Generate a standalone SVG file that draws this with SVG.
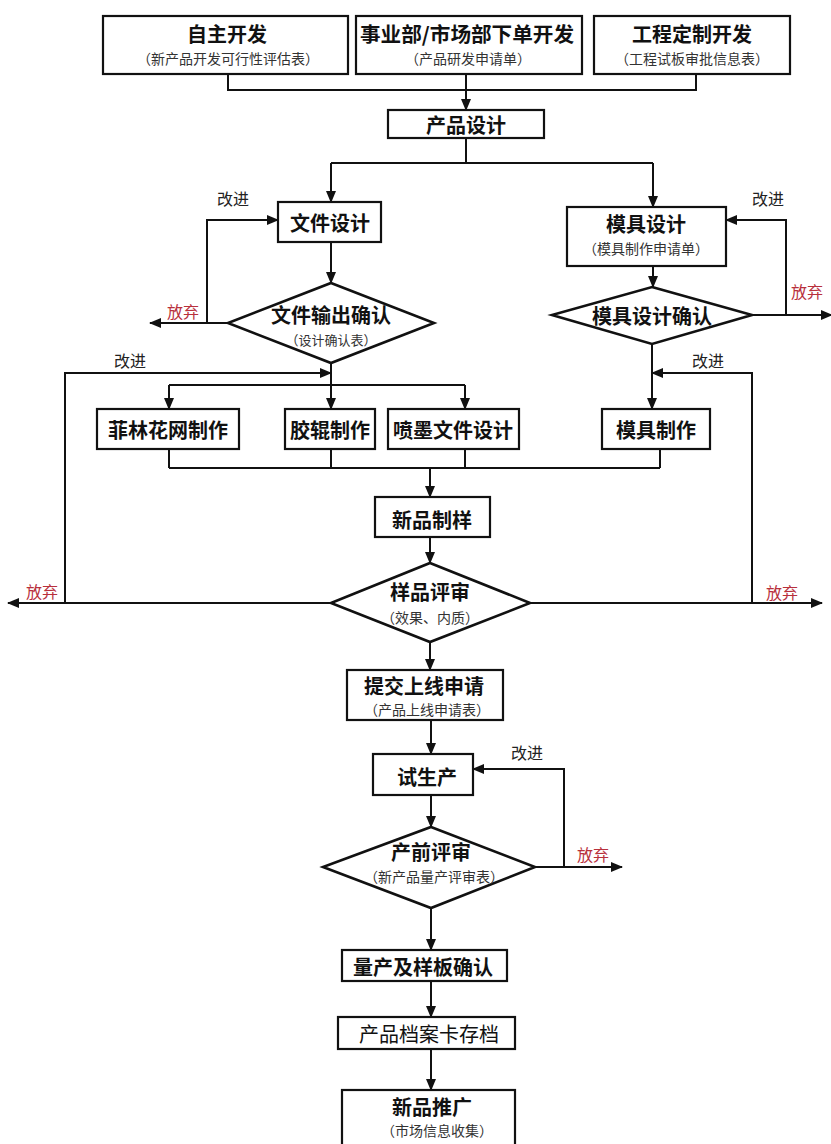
<svg xmlns="http://www.w3.org/2000/svg" width="831" height="1144" viewBox="0 0 831 1144">
<style>
.box{fill:#fff;stroke:#111;stroke-width:2.2}
.dia{fill:#fff;stroke:#111;stroke-width:2.6}
.ln{fill:none;stroke:#111;stroke-width:2}
.t{font-family:"Noto Sans CJK SC","Noto Sans",sans-serif;font-size:20px;font-weight:bold;fill:#111;text-anchor:middle;dominant-baseline:central}
.s{font-family:"Noto Sans CJK SC","Noto Sans",sans-serif;font-size:14px;fill:#333;text-anchor:middle;dominant-baseline:central}
.g{font-family:"Noto Sans CJK SC","Noto Sans",sans-serif;font-size:16px;fill:#222;text-anchor:middle;dominant-baseline:central}
.r{font-family:"Noto Sans CJK SC","Noto Sans",sans-serif;font-size:16px;fill:#b8303c;text-anchor:middle;dominant-baseline:central}
.nb{font-weight:normal}
</style>
<defs>
<marker id="ah" viewBox="0 0 12 10" refX="11" refY="5" markerWidth="12" markerHeight="10" markerUnits="userSpaceOnUse" orient="auto">
<path d="M0,0 L12,5 L0,10 z" fill="#111"/>
</marker>
</defs>
<rect width="831" height="1144" fill="#fff"/>

<g id="connectors">
<path class="ln" d="M228,74 V90 H696 V74"/>
<path class="ln" d="M466,74 V110" marker-end="url(#ah)"/>
<path class="ln" d="M466,138 V163"/>
<path class="ln" d="M331,163 H653"/>
<path class="ln" d="M331,163 V202" marker-end="url(#ah)"/>
<path class="ln" d="M653,163 V207" marker-end="url(#ah)"/>
<path class="ln" d="M331,242 V283" marker-end="url(#ah)"/>
<path class="ln" d="M228,323 H150" marker-end="url(#ah)"/>
<path class="ln" d="M207,323 V220 H278" marker-end="url(#ah)"/>
<path class="ln" d="M331,363 V409" marker-end="url(#ah)"/>
<path class="ln" d="M65,603 V373 H331" marker-end="url(#ah)"/>
<path class="ln" d="M169,385 H465"/>
<path class="ln" d="M169,385 V409" marker-end="url(#ah)"/>
<path class="ln" d="M465,385 V409" marker-end="url(#ah)"/>
<path class="ln" d="M653,266 V287" marker-end="url(#ah)"/>
<path class="ln" d="M752,315 H832" marker-end="url(#ah)"/>
<path class="ln" d="M786,315 V220 H726" marker-end="url(#ah)"/>
<path class="ln" d="M652,344 V409" marker-end="url(#ah)"/>
<path class="ln" d="M752,603 V373 H652" marker-end="url(#ah)"/>
<path class="ln" d="M169,449 V468 M331,449 V468 M465,449 V468 M660,449 V468 M169,468 H660"/>
<path class="ln" d="M430,468 V497" marker-end="url(#ah)"/>
<path class="ln" d="M430,537 V563" marker-end="url(#ah)"/>
<path class="ln" d="M331,603 H8" marker-end="url(#ah)"/>
<path class="ln" d="M530,603 H822" marker-end="url(#ah)"/>
<path class="ln" d="M430,642 V670" marker-end="url(#ah)"/>
<path class="ln" d="M431,720 V754" marker-end="url(#ah)"/>
<path class="ln" d="M431,795 V827" marker-end="url(#ah)"/>
<path class="ln" d="M535,867 H622" marker-end="url(#ah)"/>
<path class="ln" d="M564,867 V769 H473" marker-end="url(#ah)"/>
<path class="ln" d="M431,908 V950" marker-end="url(#ah)"/>
<path class="ln" d="M431,981 V1017" marker-end="url(#ah)"/>
<path class="ln" d="M431,1049 V1090" marker-end="url(#ah)"/>
</g>

<g id="labels">
<text class="g" x="233" y="198">改进</text>
<text class="g" x="130" y="360">改进</text>
<text class="g" x="768" y="198">改进</text>
<text class="g" x="708" y="360">改进</text>
<text class="g" x="527" y="752">改进</text>
<text class="r" x="183" y="311">放弃</text>
<text class="r" x="807" y="291">放弃</text>
<text class="r" x="42" y="591">放弃</text>
<text class="r" x="782" y="592">放弃</text>
<text class="r" x="593" y="854">放弃</text>
</g>

<g id="n-zizhu">
<rect class="box" x="103" y="16" width="245" height="58"/>
<text class="t" x="227" y="33">自主开发</text>
<text class="s" x="228" y="58">（新产品开发可行性评估表）</text>
</g>
<g id="n-shiyebu">
<rect class="box" x="356" y="16" width="226" height="58"/>
<text class="t" x="467" y="33" textLength="214" lengthAdjust="spacingAndGlyphs">事业部/市场部下单开发</text>
<text class="s" x="468" y="58">（产品研发申请单）</text>
</g>
<g id="n-gongcheng">
<rect class="box" x="594" y="16" width="196" height="58"/>
<text class="t" x="692" y="33">工程定制开发</text>
<text class="s" x="692" y="58">（工程试板审批信息表）</text>
</g>
<g id="n-chanpinsheji">
<rect class="box" x="388" y="110" width="156" height="28"/>
<text class="t" x="466" y="124">产品设计</text>
</g>
<g id="n-wenjiansheji">
<rect class="box" x="278" y="202" width="103" height="40"/>
<text class="t" x="330" y="222">文件设计</text>
</g>
<g id="n-wenjianqueren">
<polygon class="dia" points="331,283 434,323 331,363 228,323"/>
<text class="t" x="331" y="314">文件输出确认</text>
<text class="s" x="331" y="339" style="font-size:13px">（设计确认表）</text>
</g>
<g id="n-mujusheji">
<rect class="box" x="567" y="207" width="159" height="59"/>
<text class="t" x="646" y="223">模具设计</text>
<text class="s" x="646" y="248">（模具制作申请单）</text>
</g>
<g id="n-mujuqueren">
<polygon class="dia" points="652,287 752,315 652,344 552,315"/>
<text class="t" x="652" y="315">模具设计确认</text>
</g>
<g id="n-feilin">
<rect class="box" x="97" y="409" width="142" height="40"/>
<text class="t" x="168" y="429">菲林花网制作</text>
</g>
<g id="n-jiaogun">
<rect class="box" x="285" y="409" width="90" height="40"/>
<text class="t" x="330" y="429">胶辊制作</text>
</g>
<g id="n-penmo">
<rect class="box" x="388" y="409" width="131" height="40"/>
<text class="t" x="453" y="429">喷墨文件设计</text>
</g>
<g id="n-mujuzhizuo">
<rect class="box" x="602" y="409" width="108" height="40"/>
<text class="t" x="656" y="429">模具制作</text>
</g>
<g id="n-xinpinzhiyang">
<rect class="box" x="375" y="497" width="115" height="40"/>
<text class="t" x="432" y="519">新品制样</text>
</g>
<g id="n-yangpinpingshen">
<polygon class="dia" points="430,563 530,603 430,642 331,603"/>
<text class="t" x="430" y="591">样品评审</text>
<text class="s" x="430" y="617">（效果、内质）</text>
</g>
<g id="n-tijiao">
<rect class="box" x="347" y="670" width="156" height="50"/>
<text class="t" x="424" y="685">提交上线申请</text>
<text class="s" x="427" y="709">（产品上线申请表）</text>
</g>
<g id="n-shishengchan">
<rect class="box" x="373" y="754" width="100" height="41"/>
<text class="t" x="427" y="776">试生产</text>
</g>
<g id="n-chanqian">
<polygon class="dia" points="431,827 535,867 431,908 323,867"/>
<text class="t" x="431" y="851">产前评审</text>
<text class="s" x="434" y="876">（新产品量产评审表）</text>
</g>
<g id="n-liangchan">
<rect class="box" x="342" y="950" width="165" height="31"/>
<text class="t" x="423" y="966">量产及样板确认</text>
</g>
<g id="n-dangan">
<rect class="box" x="338" y="1017" width="177" height="32"/>
<text class="t nb" x="429" y="1033">产品档案卡存档</text>
</g>
<g id="n-tuiguang">
<rect class="box" x="342" y="1090" width="173" height="62"/>
<text class="t" x="432" y="1106">新品推广</text>
<text class="s" x="437" y="1130">（市场信息收集）</text>
</g>
</svg>
